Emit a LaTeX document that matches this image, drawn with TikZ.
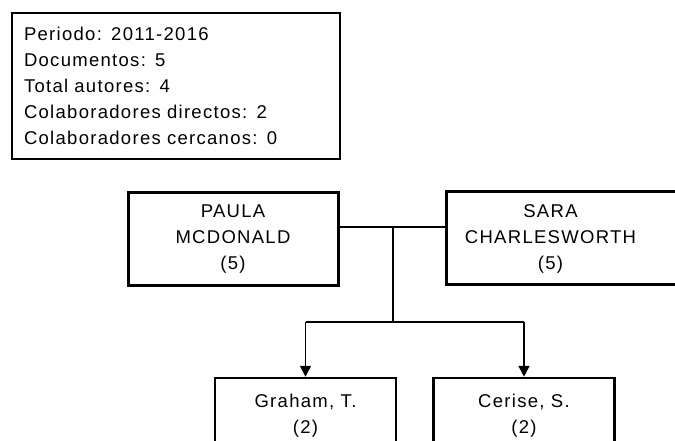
\documentclass[tikz,border=0pt]{standalone}
\usepackage{fontspec}
\setmainfont[LetterSpace=7]{Liberation Sans}
\usetikzlibrary{arrows.meta,positioning}

\begin{document}
\begin{tikzpicture}[x=1pt,y=-1pt,>={Triangle[width=11pt,length=11pt]},
                    line width=2pt,font=\fontsize{18.5}{26}\selectfont]
  \tikzstyle{every node}=[align=center,inner sep=0pt]
  \tikzstyle{author}=[rectangle,draw,line width=3pt,minimum width=210pt,minimum height=92pt]
  \tikzstyle{coauthor}=[rectangle,draw,line width=2.5pt,minimum width=181pt,minimum height=76pt]

  \useasboundingbox (0,0) rectangle (675,441);
  \clip (0,0) rectangle (675,441);

  \node[rectangle,draw,anchor=north west,minimum width=328pt,minimum height=146pt,
        text width=304pt,align=left] (info) at (11,12)
        {Periodo: 2011-2016\\ Documentos: 5\\ Total autores: 4\\
         Colaboradores directos: 2\\ Colaboradores cercanos: 0};

  \node[author] (PM) at (233,239)         {PAULA\\ MCDONALD\\ (5)};
  \node[minimum width=206pt,minimum height=92pt] (SC) [right=107pt of PM]
        {SARA\\ CHARLESWORTH\\ (5)};
  \draw[line width=3pt] (SC.north west) rectangle ++(260,92);

  \node[coauthor] (GT) at (305.5,416)     {Graham, T.\\ (2)};
  \node[coauthor] (CS) at (524,416)       {Cerise, S.\\ (2)};

  \coordinate (join) at (393,227);
  \coordinate (fork) at (393,322);

  \draw (PM.east |- join) -- (SC.west |- join);
  \draw (join) -- (fork);
  \draw (GT.north |- fork) -- (CS.north |- fork);
  \draw[->,line width=1.5pt] (GT.north |- fork) -- (GT.north);
  \draw[->,line width=1.5pt] (CS.north |- fork) -- (CS.north);

\end{tikzpicture}
\end{document}
